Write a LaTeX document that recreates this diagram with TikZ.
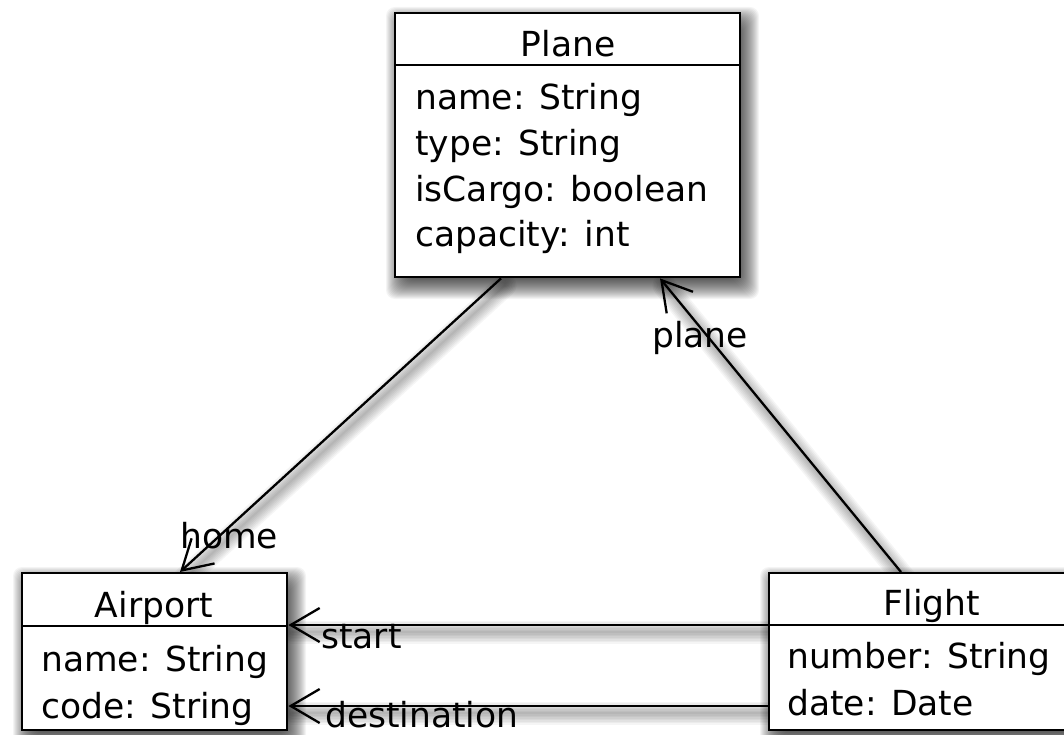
\documentclass[tikz,border=0pt]{standalone}
\usepackage{fontspec}
\setmainfont{DejaVu Sans}
\usetikzlibrary{arrows.meta,calc}
\newcommand\softshadow[2]{%
  \foreach \r in {-10,...,14}{%
    \fill[black,opacity=0.042,rounded corners=9pt]
      ($(#1)+(6-\r,9-\r)$) rectangle ($(#2)+(6+\r,9+\r)$);
  }%
}
\begin{document}
\begin{tikzpicture}[x=1pt,y=-1pt,
  box/.style={draw,line width=2.4pt,fill=white,anchor=north west,inner sep=0pt,rectangle},
  txt/.style={anchor=base west,inner sep=0pt,font=\fontsize{34.5}{40}\selectfont},
  ttl/.style={anchor=base,inner sep=0pt,font=\fontsize{34.5}{40}\selectfont},
  conn/.style={line width=2.3pt,-{Straight Barb[length=29pt,width=34pt]}},
  shline/.style={draw=black,opacity=0.04,line cap=round}]
\clip (0,0) rectangle (1064,735);
\fill[white] (0,0) rectangle (1064,735);
% geometry
\path (394,12) coordinate (p1) (739,276) coordinate (p2);
\path (21,572) coordinate (a1) (286,729) coordinate (a2);
\path (768,572) coordinate (f1) (1094,729) coordinate (f2);
% shadows of boxes
\softshadow{p1}{p2}
\softshadow{a1}{a2}
\softshadow{f1}{f2}
% boxes
\node[box,minimum width=345pt,minimum height=264pt] (plane) at (p1) {};
\node[box,minimum width=265pt,minimum height=157pt] (airport) at (a1) {};
\node[box,minimum width=326pt,minimum height=157pt] (flight) at (f1) {};
% line shadows
\begin{scope}[transform canvas={xshift=4pt,yshift=-7pt}]
\foreach \w in {2,5,...,23}{
  \draw[shline,line width=\w pt] ([xshift=107pt]plane.south west) -- ([xshift=159pt]airport.north west);
  \draw[shline,line width=\w pt] ([xshift=133pt]flight.north west) -- ([xshift=266pt]plane.south west);
  \draw[shline,line width=\w pt] ([yshift=-53pt]flight.north west) -- ([yshift=-53pt]airport.north east);
  \draw[shline,line width=\w pt] ([yshift=-134pt]flight.north west) -- ([yshift=-134pt]airport.north east);
}
\end{scope}
% redraw boxes above line shadows
\node[box,minimum width=345pt,minimum height=264pt] at (p1) {};
\node[box,minimum width=265pt,minimum height=157pt] at (a1) {};
\node[box,minimum width=326pt,minimum height=157pt] at (f1) {};
% dividers
\draw[line width=2.4pt] ([yshift=-53pt]plane.north west) -- ([yshift=-53pt]plane.north east);
\draw[line width=2.4pt] ([yshift=-54pt]airport.north west) -- ([yshift=-54pt]airport.north east);
\draw[line width=2.4pt] ([yshift=-53pt]flight.north west) -- ([yshift=-53pt]flight.north east);
% Plane text
\node[ttl] (planeT) at (568,57) {Plane};
\node[txt] (plA1) at (415,110) {name: String};
\node[txt] (plA2) at (415,156) {type: String};
\node[txt] (plA3) at (415,202) {isCargo: boolean};
\node[txt] (plA4) at (415,247) {capacity: int};
% Airport text
\node[ttl] (airT) at (154,617) {Airport};
\node[txt] (aiA1) at (41,671) {name: String};
\node[txt] (aiA2) at (41,718) {code: String};
% Flight text
\node[ttl] (flT) at (932,615) {Flight};
\node[txt] (flA1) at (787,668) {number: String};
\node[txt] (flA2) at (787,715) {date: Date};
% labels
\node[txt] (lhome) at (180,548) {home};
\node[txt] (lplane) at (652,347) {plane};
\node[txt] (lstart) at (321,648) {start};
\node[txt] (ldest) at (325,727) {destination};
% connectors
\draw[conn] ([xshift=107pt]plane.south west) -- ([xshift=159pt]airport.north west);
\draw[conn] ([xshift=133pt]flight.north west) -- ([xshift=266pt]plane.south west);
\draw[conn] ([yshift=-53pt]flight.north west) -- ([yshift=-53pt]airport.north east);
\draw[conn] ([yshift=-134pt]flight.north west) -- ([yshift=-134pt]airport.north east);
\end{tikzpicture}
\end{document}
